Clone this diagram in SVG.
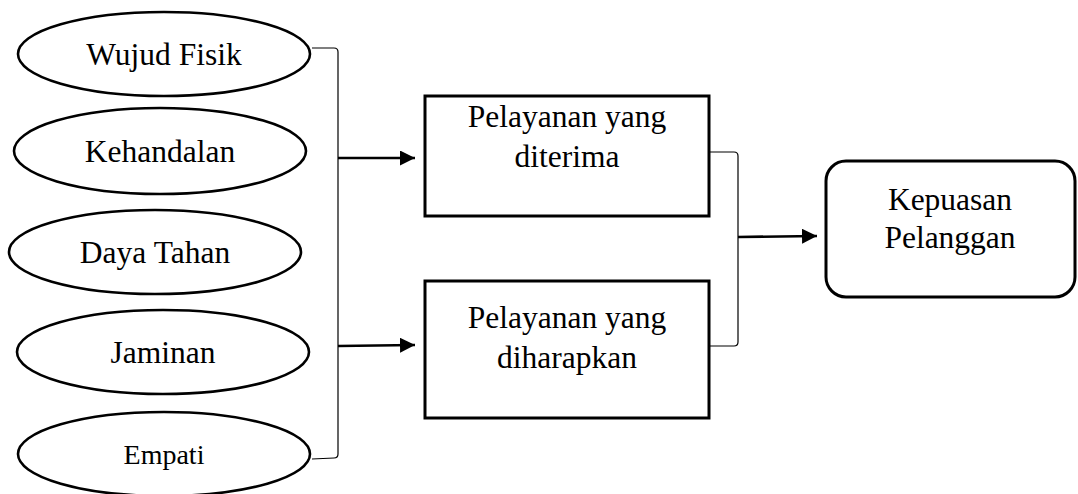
<svg xmlns="http://www.w3.org/2000/svg" width="1078" height="494" viewBox="0 0 1078 494">
  <style>
    .node { fill: #fff; stroke: #000; }
    .oval { stroke-width: 2.6; }
    .box { stroke-width: 3; }
    .label { font-family: "Liberation Serif", "Times New Roman", serif; font-size: 31.5px; fill: #000; text-anchor: middle; }
    .brace { fill: none; stroke: #000; stroke-width: 1.2; }
    .arrow { fill: none; stroke: #000; stroke-width: 2.6; marker-end: url(#head); }
  </style>
  <defs>
    <marker id="head" markerUnits="userSpaceOnUse" markerWidth="16" markerHeight="16" refX="15" refY="7.5" orient="auto">
      <path d="M0,0 L15,7.5 L0,15 Z" fill="#000"/>
    </marker>
  </defs>
  <rect width="1078" height="494" fill="#fff"/>

  <g id="wujud-fisik">
    <ellipse class="node oval" cx="164" cy="54" rx="146" ry="42"/>
    <text class="label" x="164" y="65">Wujud Fisik</text>
  </g>
  <g id="kehandalan">
    <ellipse class="node oval" cx="160" cy="151" rx="146" ry="43"/>
    <text class="label" x="160" y="162">Kehandalan</text>
  </g>
  <g id="daya-tahan">
    <ellipse class="node oval" cx="155" cy="252" rx="146" ry="42"/>
    <text class="label" x="155" y="263">Daya Tahan</text>
  </g>
  <g id="jaminan">
    <ellipse class="node oval" cx="163" cy="352" rx="146" ry="42"/>
    <text class="label" x="163" y="363">Jaminan</text>
  </g>
  <g id="empati">
    <ellipse class="node oval" cx="164" cy="454" rx="146" ry="42"/>
    <text class="label" x="164" y="464" style="font-size:28px">Empati</text>
  </g>

  <g id="pelayanan-diterima">
    <rect class="node box" x="425" y="96" width="284" height="120"/>
    <text class="label" x="567" y="127">Pelayanan yang</text>
    <text class="label" x="567" y="167">diterima</text>
  </g>
  <g id="pelayanan-diharapkan">
    <rect class="node box" x="425" y="281" width="284" height="137"/>
    <text class="label" x="567" y="328">Pelayanan yang</text>
    <text class="label" x="567" y="368">diharapkan</text>
  </g>
  <g id="kepuasan-pelanggan">
    <rect class="node box" x="826" y="161" width="249" height="136" rx="20" ry="20"/>
    <text class="label" x="950" y="210">Kepuasan</text>
    <text class="label" x="950" y="248">Pelanggan</text>
  </g>

  <g id="connectors">
    <path class="brace" d="M312,48 L334,48 Q338,48 338,52 L338,454 Q338,458 334,458 L312,459"/>
    <path class="arrow" d="M338,158 L415,158"/>
    <path class="arrow" d="M338,346 L415,345"/>
    <path class="brace" d="M709,152 L734,152 Q738,152 738,156 L738,342 Q738,346 734,346 L709,346"/>
    <path class="arrow" d="M738,237 L817,236"/>
  </g>
</svg>
